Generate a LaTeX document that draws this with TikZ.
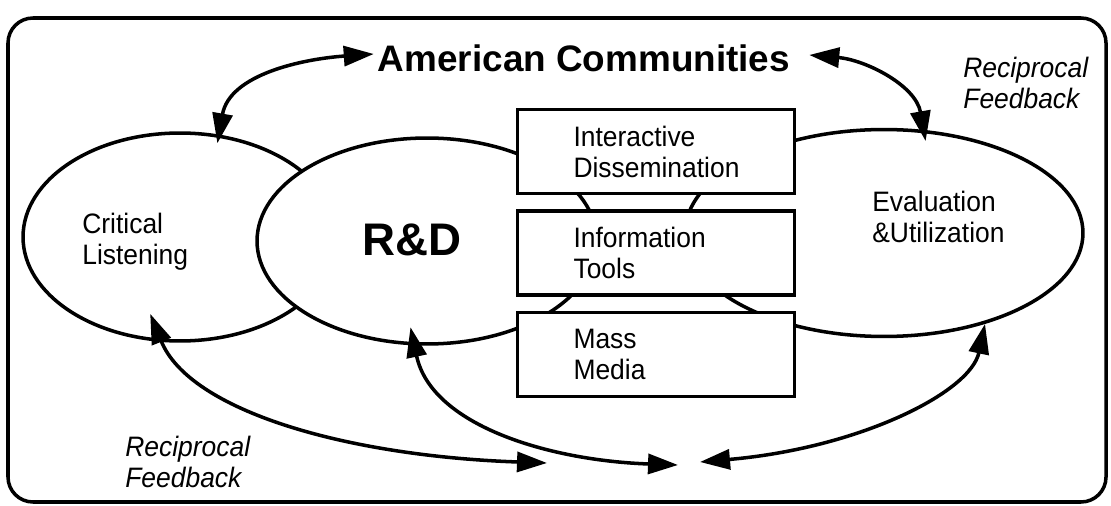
\documentclass[tikz,border=0pt]{standalone}
\usepackage{fontspec}
\setmainfont{Liberation Sans}
\newfontfamily\tallsans[FakeStretch=0.94]{Liberation Sans}
\usetikzlibrary{arrows.meta, positioning, shapes.geometric, calc}

\tikzset{
  loop/.style={draw, ellipse, line width=2pt, fill=white, inner sep=0pt},
  channel/.style={draw, line width=1.8pt, fill=white, minimum width=5.54cm, minimum height=1.68cm,
    text width=3.3cm, align=left, font=\tallsans\fontsize{16}{17.5}\selectfont},
  fb/.style={{Triangle[length=0.6cm,width=0.4cm]}-{Triangle[length=0.6cm,width=0.4cm]}, line width=2pt},
  lbl/.style={align=left, inner sep=0pt, font=\tallsans\fontsize{16}{17.5}\selectfont},
}

\begin{document}
\begin{tikzpicture}[x=0.02cm, y=0.02cm]
\useasboundingbox (0,0) rectangle (1111,-506);
\draw[line width=2pt, rounded corners=0.5cm] (8,-18) rectangle (1106,-502);

% the three loops
\node[loop, minimum width=6.28cm, minimum height=4.16cm] (cl) at (180,-237) {};
\node[loop, minimum width=6.8cm, minimum height=4.12cm] (rd) at (427,-241) {};
\node[loop, minimum width=7.96cm, minimum height=4.14cm] (ev) at (884,-233) {};

\node[lbl, anchor=west] (cltxt) at (82,-242) {Critical\\Listening};
\node[font=\fontsize{26}{30}\selectfont\bfseries] (rdtxt) at (412,-240) {R\&D};
\node[lbl, anchor=west] (evtxt) at (872,-217) {Evaluation\\\&Utilization};

% channels
\node[channel] (tools) at (656,-253) {Information\\Tools};
\node[channel, above=0.28cm of tools] (dis) {Interactive\\Dissemination};
\node[channel, below=0.28cm of tools] (media) {Mass\\Media};

\node[font=\fontsize{21}{25}\selectfont\bfseries] (amc) at (584,-58) {American Communities};
\node[lbl, anchor=west, font=\tallsans\fontsize{16}{17.5}\selectfont\itshape] (fbtop) at (963,-83) {Reciprocal\\Feedback};
\node[lbl, anchor=west, font=\tallsans\fontsize{16}{17.5}\selectfont\itshape] (fbbot) at (125,-462) {Reciprocal\\Feedback};

% feedback arrows
\coordinate (m1) at (547,-463);
\coordinate (m2) at (678,-465);
\coordinate (m3) at (700,-462);
\draw[fb] ($(cl.70)+(0,-9)$) to[out=80,in=184] ($(amc.west)+(2,4)$);
\draw[fb] ($(amc.east)+(13,3)$) to[out=-5,in=100] ($(ev.68)+(0,-11)$);
\draw[fb] ($(cl.254)+(0,27)$) to[out=-68,in=178,out distance=2.1cm,in distance=4cm] (m1);
\draw[fb] ($(rd.261)+(0,18)$) to[out=-78,in=178,out distance=2cm,in distance=2.6cm] (m2);
\draw[fb] (ev.-42) to[out=-102,in=5,out distance=1.4cm,in distance=3.2cm] (m3);
\end{tikzpicture}
\end{document}
